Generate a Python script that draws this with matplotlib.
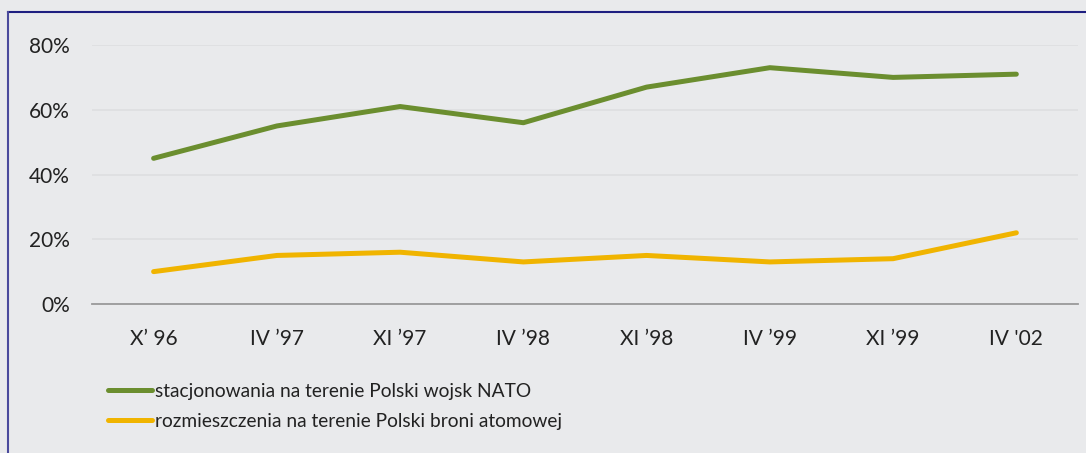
import matplotlib.pyplot as plt
from matplotlib.lines import Line2D

# survey waves
categories = ["X\u2019 96", "IV \u201997", "XI \u201997", "IV \u201998", "XI \u201998", "IV \u201999", "XI \u201999", "IV '02"]

# percent in favour of ...
nato_troops = [45, 55, 61, 56, 67, 73, 70, 71]
nuclear_weapons = [10, 15, 16, 13, 15, 13, 14, 22]

series_labels = ["stacjonowania na terenie Polski wojsk NATO",
                 "rozmieszczenia na terenie Polski broni atomowej"]

plt.rcParams['font.family'] = ['Lato', 'DejaVu Sans']

bg = "#E9EAEC"
fig = plt.figure(figsize=(10.86, 4.53), dpi=100, facecolor=bg)
ax = fig.add_axes([0.0847, 0.3289, 0.9079, 0.5717])
ax.set_facecolor(bg)

x = range(len(categories))
ax.plot(x, nato_troops, color="#6B8E2F", linewidth=3.6, solid_capstyle="round",
        label=series_labels[0])
ax.plot(x, nuclear_weapons, color="#F0B400", linewidth=3.6, solid_capstyle="round",
        label=series_labels[1])

ax.set_xlim(-0.5, len(categories) - 0.5)
ax.set_ylim(0, 80)
ax.set_yticks([0, 20, 40, 60, 80])
ax.set_yticklabels([f"{v}%" for v in [0, 20, 40, 60, 80]])
ax.set_xticks(list(x))
ax.set_xticklabels(categories)

ax.grid(axis="y", color="#DDDEE0", linewidth=1.2)
ax.set_axisbelow(True)
for side in ["top", "right", "left"]:
    ax.spines[side].set_visible(False)
ax.spines["bottom"].set_color("#9A9A9A")
ax.spines["bottom"].set_linewidth(1.3)
ax.tick_params(axis="both", length=0, labelsize=15, colors="#222222")
ax.tick_params(axis="y", pad=16)
ax.tick_params(axis="x", pad=18)

ax.legend(loc="upper left", bbox_to_anchor=(0.092, 0.172), bbox_transform=fig.transFigure,
          frameon=False, fontsize=13.8, handlelength=2.3, handletextpad=0.2,
          labelspacing=0.68, borderaxespad=0, labelcolor="#222222")

# frame around the figure
fig.add_artist(Line2D([8 / 1086, 1], [1 - 12 / 453, 1 - 12 / 453], color="#1E1E80",
                      linewidth=1.5, transform=fig.transFigure))
fig.add_artist(Line2D([8 / 1086, 8 / 1086], [0, 1 - 12 / 453], color="#4A4A9C",
                      linewidth=1.5, transform=fig.transFigure))

fig.savefig("out.png", dpi=100, facecolor=bg)
